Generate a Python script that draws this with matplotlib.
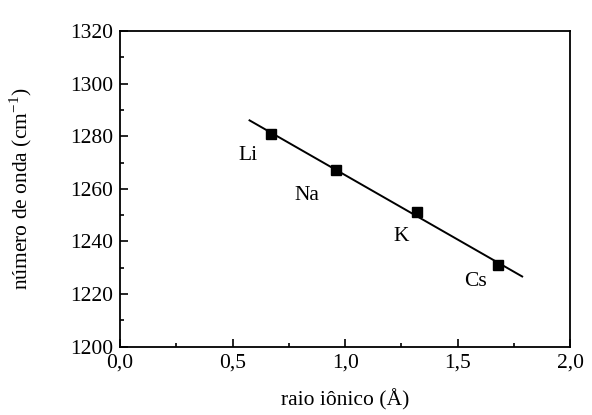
import numpy as np
import matplotlib
matplotlib.use("Agg")
import matplotlib.pyplot as plt
from matplotlib.ticker import MultipleLocator, FuncFormatter

ions = ["Li", "Na", "K", "Cs"]
radius = [0.67, 0.96, 1.32, 1.68]
wavenumber = [1281, 1267, 1251, 1231]
label_x = [0.57, 0.83, 1.25, 1.58]
label_y = [1272.5, 1257.3, 1242, 1224.6]
fit_range = [0.575, 1.787]

plt.rcParams['font.family'] = ['Liberation Serif', 'DejaVu Serif']
plt.rcParams['axes.linewidth'] = 1.3
fig = plt.figure(figsize=(5.92, 4.15), dpi=100)
ax = fig.add_axes([0.203, 0.165, 0.76, 0.76])

coef = np.polyfit(radius, wavenumber, 1)
fx = np.array(fit_range)
ax.plot(fx, np.polyval(coef, fx), color='black', lw=1.4)
ax.plot(radius, wavenumber, 's', color='black', ms=7)
for n, x, y in zip(ions, label_x, label_y):
    ax.text(x, y, n, ha='center', va='center', fontsize=15.5)

ax.set_xlim(0, 2.0)
ax.set_ylim(1200, 1320)
ax.xaxis.set_major_locator(MultipleLocator(0.5))
ax.xaxis.set_minor_locator(MultipleLocator(0.25))
ax.yaxis.set_major_locator(MultipleLocator(20))
ax.yaxis.set_minor_locator(MultipleLocator(10))
ax.xaxis.set_major_formatter(FuncFormatter(lambda v, p: f"{v:.1f}".replace('.', ',')))
ax.tick_params(which='both', direction='in', top=False, right=False, labelsize=15.5, width=1.2)
ax.tick_params(which='major', length=6, pad=5)
ax.tick_params(which='minor', length=3)
ax.set_xlabel("raio iônico (Å)", fontsize=15.5, labelpad=12)
ax.set_ylabel("número de onda (cm$^{\\mathregular{-1}}$)", fontsize=15.5, labelpad=26)
fig.savefig("out.png", dpi=100)
